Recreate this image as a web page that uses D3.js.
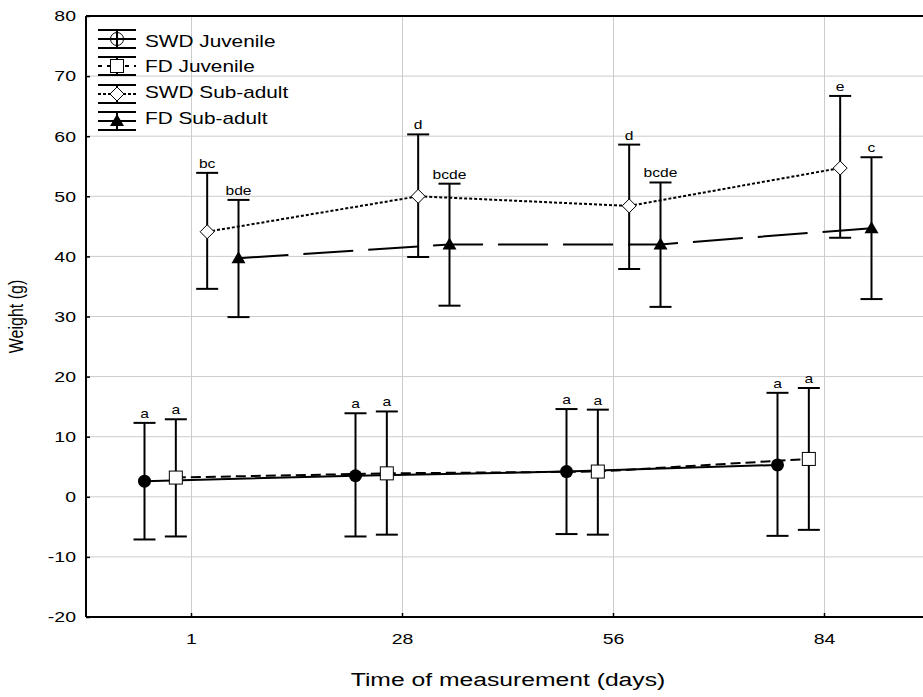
<!DOCTYPE html>
<html>
<head>
<meta charset="utf-8">
<script src="https://cdn.jsdelivr.net/npm/d3@7"></script>
<style>
  body { margin: 0; background: #fff; }
  svg { display: block; font-family: "Liberation Sans", Arial, sans-serif; }
</style>
</head>
<body>
<div id="chart"></div>
<script>
// measurement days (categories)
const days = ['1', '28', '56', '84'];
const seriesNames = ['SWD Juvenile', 'FD Juvenile', 'SWD Sub-adult', 'FD Sub-adult'];

// mean weight (g) per series
const swdJuvMean = [2.6, 3.5, 4.2, 5.3];
const fdJuvMean = [3.2, 3.9, 4.2, 6.3];
const swdSubMean = [44.1, 50.0, 48.4, 54.7];
const fdSubMean = [39.7, 42.0, 42.0, 44.7];

// error bar bounds
const swdJuvLow = [-7.1, -6.6, -6.2, -6.5];
const swdJuvHigh = [12.3, 13.9, 14.6, 17.3];
const fdJuvLow = [-6.6, -6.3, -6.3, -5.5];
const fdJuvHigh = [12.9, 14.2, 14.5, 18.1];
const swdSubLow = [34.6, 39.9, 37.9, 43.1];
const swdSubHigh = [53.9, 60.3, 58.6, 66.7];
const fdSubLow = [29.9, 31.8, 31.6, 32.9];
const fdSubHigh = [49.4, 52.1, 52.3, 56.5];

// significance letters
const swdJuvLetters = ['a', 'a', 'a', 'a'];
const fdJuvLetters = ['a', 'a', 'a', 'a'];
const swdSubLetters = ['bc', 'd', 'd', 'e'];
const fdSubLetters = ['bde', 'bcde', 'bcde', 'c'];

const yTicks = [-20, -10, 0, 10, 20, 30, 40, 50, 60, 70, 80];

const series = [
    { name: seriesNames[0], mean: swdJuvMean, low: swdJuvLow, high: swdJuvHigh, letters: swdJuvLetters, marker: 'circle', dash: null, legendDash: null },
    { name: seriesNames[1], mean: fdJuvMean, low: fdJuvLow, high: fdJuvHigh, letters: fdJuvLetters, marker: 'square', dash: '10,5', legendDash: '4,5' },
    { name: seriesNames[2], mean: swdSubMean, low: swdSubLow, high: swdSubHigh, letters: swdSubLetters, marker: 'diamond', dash: '3,2', legendDash: '3,2' },
    { name: seriesNames[3], mean: fdSubMean, low: fdSubLow, high: fdSubHigh, letters: fdSubLetters, marker: 'triangle', dash: '50,15', legendDash: null }
];

const width = 923, height = 697;
const margin = { left: 86, top: 16, right: -7, bottom: 80 };
const stretchX = 1.3; // text in the original is drawn wide

const svg = d3.select('#chart').append('svg')
    .attr('width', width).attr('height', height);

const x = d3.scaleBand().domain(days).range([margin.left, width - margin.right]).padding(0);
const offset = d3.scalePoint().domain(seriesNames).range([-47, 47]);
const y = d3.scaleLinear().domain([-20, 80]).range([height - margin.bottom, margin.top]);

const px = (s, i) => x(days[i]) + x.bandwidth() / 2 + offset(s.name);

function stretch(sel) {
    sel.attr('transform', function () {
        const tx = +this.getAttribute('x') || 0;
        const ty = +this.getAttribute('y') || 0;
        return `translate(${tx},${ty}) scale(${stretchX},1) translate(${-tx},${-ty})`;
    });
}

// grid
const grid = svg.append('g');
grid.selectAll('.hgrid').data(yTicks).join('line')
    .attr('x1', margin.left).attr('x2', width)
    .attr('y1', d => y(d)).attr('y2', d => y(d))
    .attr('stroke', '#cccccc').attr('stroke-width', 1);
grid.selectAll('.vgrid').data(days).join('line')
    .attr('x1', d => x(d) + x.bandwidth() / 2).attr('x2', d => x(d) + x.bandwidth() / 2)
    .attr('y1', y(80)).attr('y2', y(-20))
    .attr('stroke', '#cccccc').attr('stroke-width', 1);

// axes
const yAxis = svg.append('g')
    .attr('transform', `translate(${margin.left},0)`)
    .call(d3.axisLeft(y).tickValues(yTicks).tickFormat(d => String(d)).tickSize(-4).tickPadding(10));
const xAxis = svg.append('g')
    .attr('transform', `translate(0,${y(-20)})`)
    .call(d3.axisBottom(x).tickSize(-4).tickPadding(16));
[yAxis, xAxis].forEach(a => {
    a.select('.domain').remove();
    a.selectAll('.tick line').attr('stroke', '#000').attr('stroke-width', 1.5);
    a.selectAll('.tick text').attr('font-size', 15).attr('fill', '#000')
        .attr('font-family', '"Liberation Sans", Arial, sans-serif');
});
xAxis.selectAll('.tick text').attr('dy', '0.71em');
stretch(yAxis.selectAll('.tick text'));
stretch(xAxis.selectAll('.tick text'));

// frame
svg.append('line').attr('x1', margin.left).attr('x2', margin.left)
    .attr('y1', y(80)).attr('y2', y(-20)).attr('stroke', '#000').attr('stroke-width', 2);
svg.append('line').attr('x1', margin.left).attr('x2', width)
    .attr('y1', y(-20)).attr('y2', y(-20)).attr('stroke', '#000').attr('stroke-width', 2);
svg.append('line').attr('x1', margin.left).attr('x2', width)
    .attr('y1', y(80)).attr('y2', y(80)).attr('stroke', '#000').attr('stroke-width', 2);

// axis titles
svg.append('text')
    .attr('x', (margin.left + width - margin.right) / 2).attr('y', 686)
    .attr('text-anchor', 'middle').attr('font-size', 19).text('Time of measurement (days)')
    .call(stretch);
svg.append('text')
    .attr('transform', `translate(23,${(y(80) + y(-20)) / 2}) scale(${stretchX},1) rotate(-90)`)
    .attr('text-anchor', 'middle').attr('font-size', 16).text('Weight (g)');

function drawMarker(g, type, legend) {
    if (type === 'circle') {
        g.append('circle').attr('r', 6.5)
            .attr('fill', legend ? 'none' : '#000').attr('stroke', '#000').attr('stroke-width', legend ? 1 : 0);
    } else if (type === 'square') {
        g.append('rect').attr('x', -6.5).attr('y', -6.5).attr('width', 13).attr('height', 13)
            .attr('fill', '#fff').attr('stroke', '#000').attr('stroke-width', 1);
    } else if (type === 'diamond') {
        g.append('path').attr('d', 'M0,-7L7,0L0,7L-7,0Z')
            .attr('fill', '#fff').attr('stroke', '#000').attr('stroke-width', 1);
    } else {
        g.append('path').attr('d', 'M0,-7L7,5L-7,5Z').attr('fill', '#000');
    }
}

// connecting lines
const lineGen = d3.line();
series.forEach(s => {
    svg.append('path')
        .attr('d', lineGen(s.mean.map((v, i) => [px(s, i), y(v)])))
        .attr('fill', 'none').attr('stroke', '#000').attr('stroke-width', 2)
        .attr('stroke-dasharray', s.dash);
});

// error bars, markers, letters
const capW = 11;
series.forEach(s => {
    s.mean.forEach((v, i) => {
        const cx = px(s, i);
        const g = svg.append('g');
        g.append('line').attr('x1', cx).attr('x2', cx).attr('y1', y(s.low[i])).attr('y2', y(s.high[i]))
            .attr('stroke', '#000').attr('stroke-width', 2);
        [s.low[i], s.high[i]].forEach(b => {
            g.append('line').attr('x1', cx - capW).attr('x2', cx + capW).attr('y1', y(b)).attr('y2', y(b))
                .attr('stroke', '#000').attr('stroke-width', 2);
        });
        g.append('text').attr('x', cx).attr('y', y(s.high[i]) - 5)
            .attr('text-anchor', 'middle').attr('font-size', 12).text(s.letters[i])
            .call(stretch);
        const m = svg.append('g').attr('transform', `translate(${cx},${y(v)})`);
        drawMarker(m, s.marker, false);
    });
});

// legend
const legend = svg.append('g');
const legendIcon = [39, 66, 94, 121];
const legendText = [41, 66, 92, 118];
series.forEach((s, i) => {
    const lg = legend.append('g').attr('transform', `translate(117,${legendIcon[i]})`);
    const behind = s.marker !== 'circle';
    const drawLines = () => {
        lg.append('line').attr('x1', -19).attr('x2', 19).attr('y1', 0).attr('y2', 0)
            .attr('stroke', '#000').attr('stroke-width', 2).attr('stroke-dasharray', s.legendDash);
        lg.append('line').attr('x1', 0).attr('x2', 0).attr('y1', -9).attr('y2', 9)
            .attr('stroke', '#000').attr('stroke-width', 2);
    };
    [-9, 9].forEach(b => lg.append('line').attr('x1', -19).attr('x2', 19).attr('y1', b).attr('y2', b)
        .attr('stroke', '#000').attr('stroke-width', 2));
    if (behind) { drawLines(); drawMarker(lg, s.marker, true); }
    else { drawMarker(lg, s.marker, true); drawLines(); }
    legend.append('text').attr('x', 145).attr('y', legendText[i]).attr('dy', '0.35em')
        .attr('font-size', 16).text(s.name).call(stretch);
});
</script>
</body>
</html>
